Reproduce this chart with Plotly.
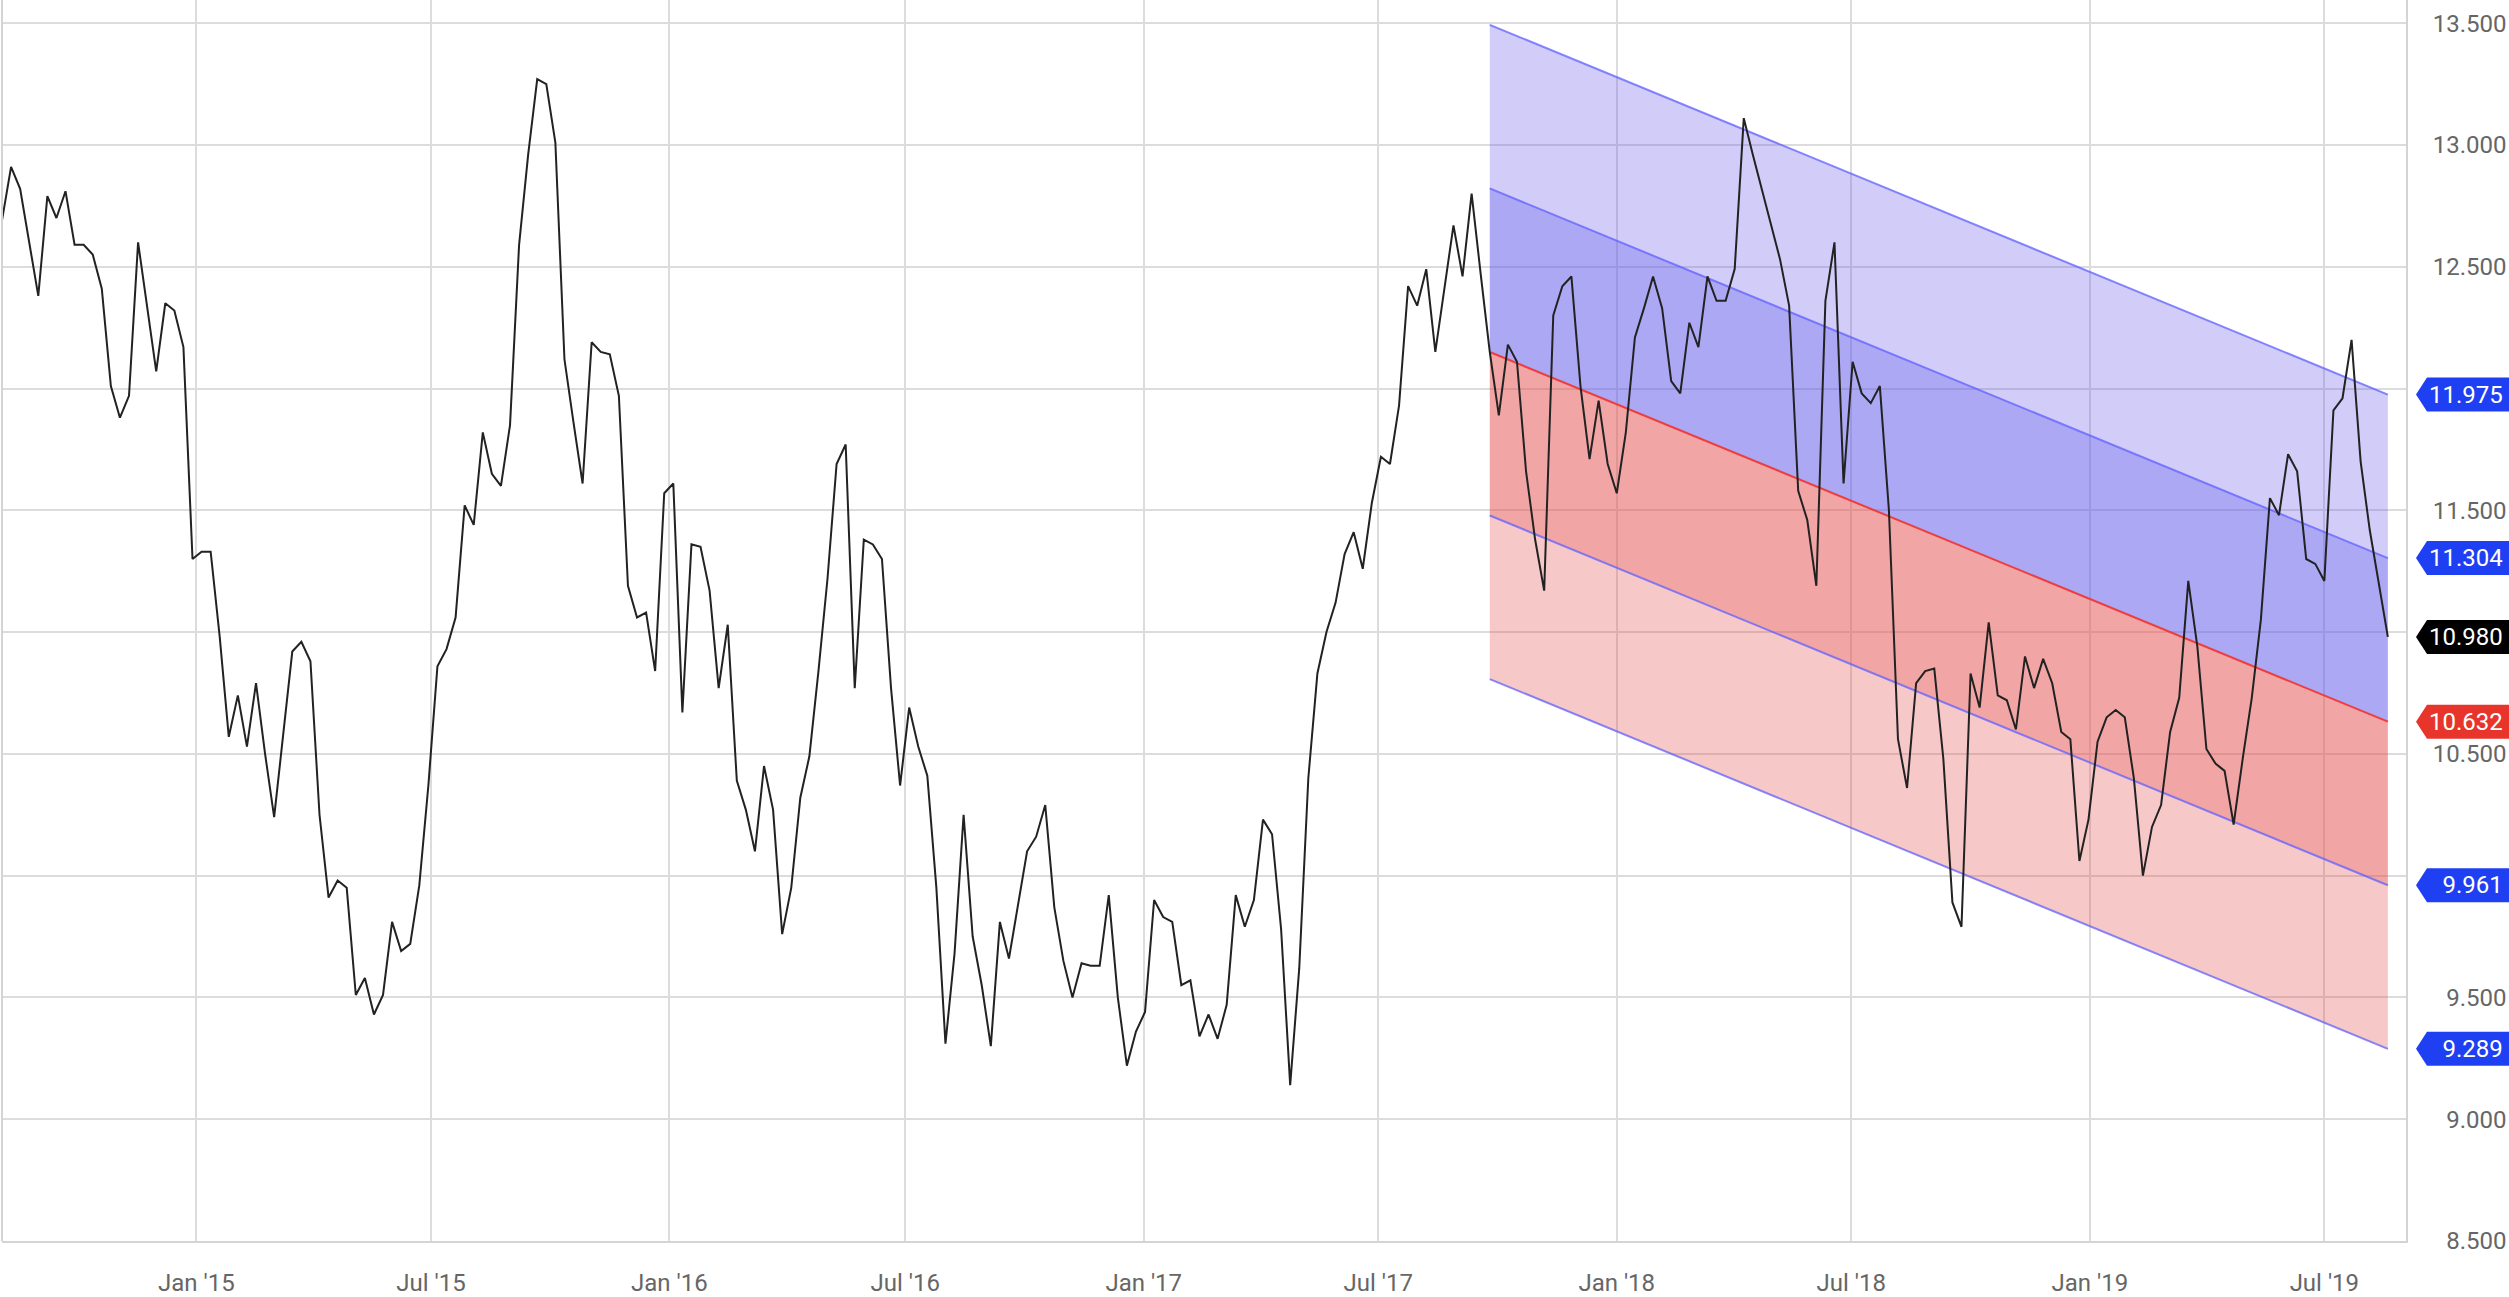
import pandas as pd
import plotly.graph_objects as go

# ---- data ------------------------------------------------------------------
start_date = "2014-08-04"          # first weekly close
values = [
    12.69, 12.91, 12.82, 12.60, 12.38, 12.79, 12.70, 12.81, 12.59, 12.59,
    12.55, 12.41, 12.01, 11.88, 11.97, 12.60, 12.33, 12.07, 12.35, 12.32,
    12.17, 11.30, 11.33, 11.33, 10.98, 10.57, 10.74, 10.53, 10.79, 10.50,
    10.24, 10.57, 10.92, 10.96, 10.88, 10.25, 9.91, 9.98, 9.95, 9.51,
    9.58, 9.43, 9.51, 9.81, 9.69, 9.72, 9.96, 10.37, 10.86, 10.93,
    11.06, 11.52, 11.44, 11.82, 11.65, 11.60, 11.85, 12.59, 12.96, 13.27,
    13.25, 13.01, 12.12, 11.86, 11.61, 12.19, 12.15, 12.14, 11.97, 11.19,
    11.06, 11.08, 10.84, 11.57, 11.61, 10.67, 11.36, 11.35, 11.17, 10.77,
    11.03, 10.39, 10.27, 10.10, 10.45, 10.27, 9.76, 9.95, 10.32, 10.49,
    10.84, 11.22, 11.69, 11.77, 10.77, 11.38, 11.36, 11.30, 10.77, 10.37,
    10.69, 10.53, 10.41, 9.95, 9.31, 9.68, 10.25, 9.75, 9.55, 9.30,
    9.81, 9.66, 9.88, 10.10, 10.16, 10.29, 9.87, 9.65, 9.50, 9.64,
    9.63, 9.63, 9.92, 9.50, 9.22, 9.36, 9.44, 9.90, 9.83, 9.81,
    9.55, 9.57, 9.34, 9.43, 9.33, 9.47, 9.92, 9.79, 9.90, 10.23,
    10.17, 9.78, 9.14, 9.62, 10.40, 10.83, 11.00, 11.12, 11.32, 11.41,
    11.26, 11.53, 11.72, 11.69, 11.93, 12.42, 12.34, 12.49, 12.15, 12.41,
    12.67, 12.46, 12.80, 12.47, 12.15, 11.89, 12.18, 12.11, 11.66, 11.38,
    11.17, 12.30, 12.42, 12.46, 12.01, 11.71, 11.95, 11.69, 11.57, 11.82,
    12.21, 12.33, 12.46, 12.33, 12.03, 11.98, 12.27, 12.17, 12.46, 12.36,
    12.36, 12.49, 13.11, 12.96, 12.82, 12.68, 12.53, 12.34, 11.58, 11.46,
    11.19, 12.36, 12.60, 11.61, 12.11, 11.98, 11.94, 12.01, 11.50, 10.56,
    10.36, 10.79, 10.84, 10.85, 10.48, 9.89, 9.79, 10.83, 10.69, 11.04,
    10.74, 10.72, 10.60, 10.90, 10.77, 10.89, 10.79, 10.59, 10.56, 10.06,
    10.23, 10.55, 10.65, 10.68, 10.65, 10.40, 10.00, 10.20, 10.29, 10.59,
    10.73, 11.21, 10.94, 10.52, 10.46, 10.43, 10.21, 10.48, 10.73, 11.05,
    11.55, 11.48, 11.73, 11.66, 11.30, 11.28, 11.21, 11.91, 11.96, 12.20,
    11.70, 11.42, 11.20, 10.98,
]

# regression channel (last 100 weeks)
channel_first = 164
channel_mid = [12.15, 10.632]
band_offsets = [1.343, 0.6715]

tag_values = [11.975, 11.304, 10.980, 10.632, 9.961, 9.289]
tag_colors = ["#1f3ff2", "#1f3ff2", "#000000", "#e8352c", "#1f3ff2", "#1f3ff2"]

y_ticks = [8.5, 9.0, 9.5, 10.0, 10.5, 11.0, 11.5, 12.0, 12.5, 13.0, 13.5]
hidden_ticks = [10.0, 11.0, 12.0]   # covered by the price tags in the original
x_ticks = ["2015-01-01", "2015-07-01", "2016-01-01", "2016-07-01", "2017-01-01",
           "2017-07-01", "2018-01-01", "2018-07-01", "2019-01-01", "2019-07-01"]
x_ticktext = ["Jan '15", "Jul '15", "Jan '16", "Jul '16", "Jan '17",
              "Jul '17", "Jan '18", "Jul '18", "Jan '19", "Jul '19"]

# ---- figure -----------------------------------------------------------------
dates = pd.date_range(start_date, periods=len(values), freq="7D")
cx = [dates[channel_first], dates[-1]]


def shifted(off):
    return [m + off for m in channel_mid]


def num(v):
    # figure space keeps the right-hand numbers flush right
    return ("\u2007" if v < 10 else "") + f"{v:.3f}"


BLUE_LINE = "rgba(95,95,255,0.75)"
levels = [
    (shifted(band_offsets[0]), None, BLUE_LINE),
    (shifted(band_offsets[1]), "rgba(102,85,232,0.30)", BLUE_LINE),
    (channel_mid, "rgba(91,81,231,0.50)", "rgba(240,55,55,0.95)"),
    (shifted(-band_offsets[1]), "rgba(227,78,75,0.50)", BLUE_LINE),
    (shifted(-band_offsets[0]), "rgba(225,72,72,0.30)", BLUE_LINE),
]

fig = go.Figure()
for ys, fillc, linec in levels:
    fig.add_trace(go.Scatter(
        x=cx, y=ys, mode="lines",
        line=dict(color=linec, width=2),
        fill="tonexty" if fillc else None,
        fillcolor=fillc,
        hoverinfo="skip",
    ))

fig.add_trace(go.Scatter(x=dates, y=values, mode="lines",
                         line=dict(color="#222222", width=2)))

FONT = "Roboto, Arial, sans-serif"

for v, c in zip(tag_values, tag_colors):
    fig.add_shape(type="path", xref="paper", yref="y",
                  xsizemode="pixel", ysizemode="pixel",
                  xanchor=1, yanchor=v,
                  path="M 10,0 L 21,17 L 120,17 L 120,-17 L 21,-17 Z",
                  fillcolor=c, line_width=0, layer="above")
    fig.add_annotation(x=1, xref="paper", y=v, yref="y", xanchor="left",
                       xshift=21, text=num(v), showarrow=False,
                       font=dict(family=FONT, size=24, color="white"))

# left frame edge
fig.add_shape(type="line", xref="paper", yref="paper", x0=0, x1=0, y0=0, y1=1,
              line=dict(color="#d4d4d4", width=2))

y_ticktext = ["" if t in hidden_ticks else num(t) for t in y_ticks]

fig.update_layout(
    width=2509, height=1297,
    margin=dict(l=2, r=103, t=0, b=40),
    paper_bgcolor="white", plot_bgcolor="white",
    showlegend=False,
    font=dict(family=FONT, size=24, color="#666666"),
    xaxis=dict(
        range=["2014-08-04", "2019-09-02"],
        tickvals=x_ticks, ticktext=x_ticktext,
        showgrid=True, gridcolor="#dcdcdc", gridwidth=1.5,
        showline=True, linecolor="#d4d4d4", linewidth=2,
        ticks="", ticklabelstandoff=19, zeroline=False,
    ),
    yaxis=dict(
        side="right", range=[8.5, 13.595],
        tickvals=y_ticks, ticktext=y_ticktext,
        showgrid=True, gridcolor="#dcdcdc", gridwidth=1.5,
        showline=True, linecolor="#d4d4d4", linewidth=2,
        ticks="", ticklabelstandoff=20, zeroline=False,
    ),
)

# the page's default body margin would push the chart 8px off the window
fig.write_html(
    "out.html",
    config={"displayModeBar": False},
    post_script="document.body.style.margin='0';document.body.style.overflow='hidden';",
)
